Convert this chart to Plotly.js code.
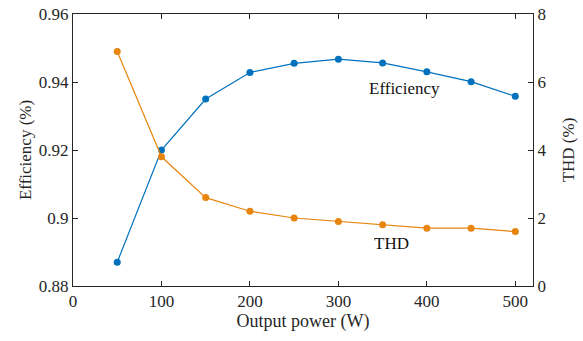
<!DOCTYPE html>
<html>
<head>
<meta charset="utf-8">
<script src="https://cdn.plot.ly/plotly-3.0.1.min.js"></script>
<style>
  html, body { margin: 0; padding: 0; background: #fff; }
  #chart { width: 583px; height: 341px; }
</style>
</head>
<body>
<div id="chart"></div>
<script>
// Output power (W)
const power = [50, 100, 150, 200, 250, 300, 350, 400, 450, 500];
// Efficiency (left axis)
const efficiency = [0.887, 0.920, 0.935, 0.9428, 0.9455, 0.9467, 0.9456, 0.943, 0.9401, 0.9358];
// THD in % (right axis)
const thd = [6.9, 3.8, 2.6, 2.2, 2.0, 1.9, 1.8, 1.7, 1.7, 1.6];

const blue = '#0072BD';
const orange = '#E8850F';
const axisColor = '#262626';
const serif = 'Liberation Serif';

const traces = [
  {
    x: power, y: efficiency, name: 'Efficiency', type: 'scatter', mode: 'lines+markers',
    line: { color: blue, width: 1.2 }, marker: { color: blue, size: 7 },
    yaxis: 'y'
  },
  {
    x: power, y: thd, name: 'THD', type: 'scatter', mode: 'lines+markers',
    line: { color: orange, width: 1.2 }, marker: { color: orange, size: 7 },
    yaxis: 'y2'
  }
];

const commonAxis = {
  showgrid: false, zeroline: false,
  showline: true, linecolor: axisColor, linewidth: 1,
  ticks: 'inside', ticklen: 5, tickcolor: axisColor, tickwidth: 1,
  tickfont: { family: serif, size: 17, color: axisColor }
};

const layout = {
  width: 583, height: 341,
  margin: { l: 73, r: 50, t: 14, b: 55 },
  paper_bgcolor: '#fff', plot_bgcolor: '#fff',
  showlegend: false,
  font: { family: serif },
  xaxis: Object.assign({}, commonAxis, {
    range: [0, 520], tickvals: [0, 100, 200, 300, 400, 500], mirror: 'ticks',
    title: { text: 'Output power (W)', font: { family: serif, size: 18, color: axisColor }, standoff: 3 }
  }),
  yaxis: Object.assign({}, commonAxis, {
    range: [0.88, 0.96], tickvals: [0.88, 0.9, 0.92, 0.94, 0.96],
    ticktext: ['0.88', '0.9', '0.92', '0.94', '0.96'],
    title: { text: 'Efficiency (%)', font: { family: serif, size: 17, color: axisColor }, standoff: 2 }
  }),
  yaxis2: Object.assign({}, commonAxis, {
    range: [0, 8], tickvals: [0, 2, 4, 6, 8], overlaying: 'y', side: 'right',
    title: { text: 'THD (%)', font: { family: serif, size: 17, color: axisColor }, standoff: 16 }
  }),
  annotations: [
    { x: 375, y: 0.938, xref: 'x', yref: 'y', text: 'Efficiency', showarrow: false,
      font: { family: serif, size: 17, color: '#111' } },
    { x: 360, y: 1.26, xref: 'x', yref: 'y2', text: 'THD', showarrow: false,
      font: { family: serif, size: 17, color: '#111' } }
  ]
};

Plotly.newPlot('chart', traces, layout, { displayModeBar: false, staticPlot: true });
</script>
</body>
</html>
